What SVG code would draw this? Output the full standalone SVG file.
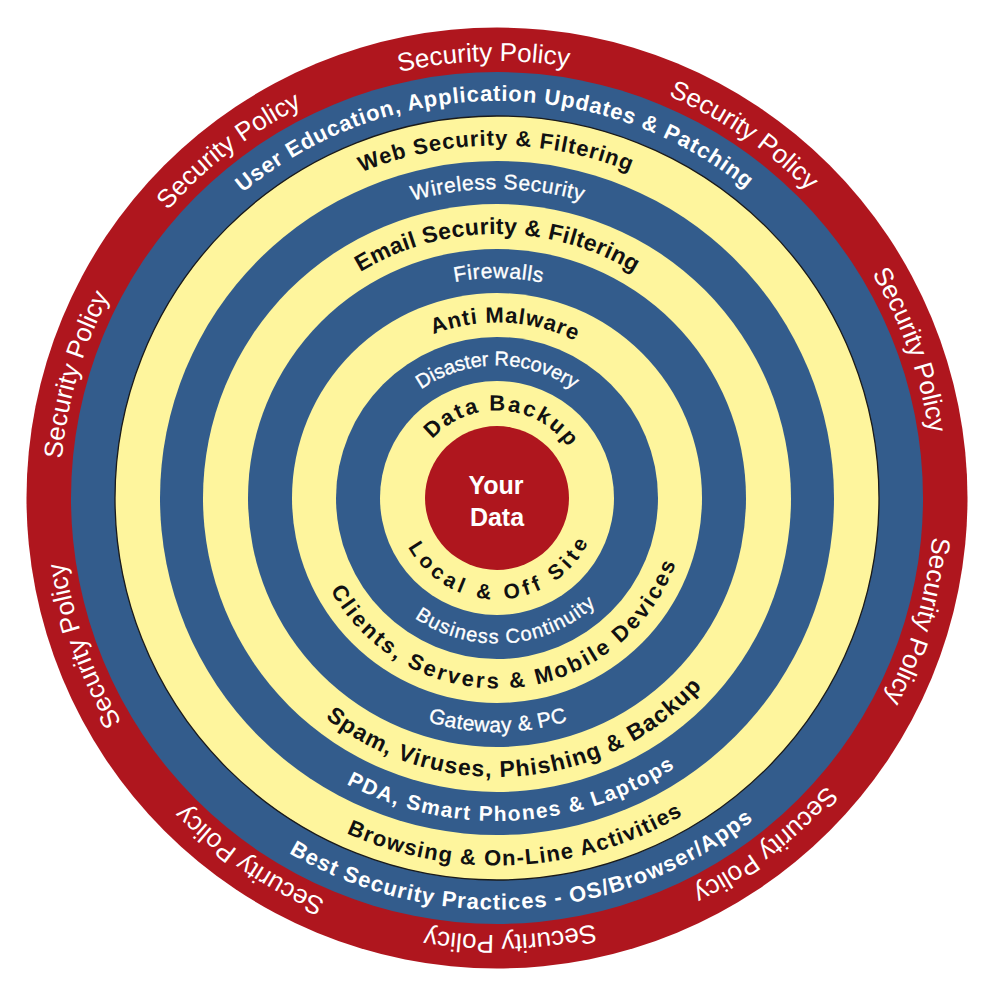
<svg xmlns="http://www.w3.org/2000/svg" width="998" height="998" viewBox="0 0 998 998">
<style>
.red{fill:#AF161E}
.blue{fill:#335C8C}
.yel{fill:#FEF59D}
.edge{stroke:#1a1a1a;stroke-width:1.3}
text{font-family:"Liberation Sans",Arial,sans-serif;text-anchor:middle}
.w{fill:#ffffff}
.m{stroke:#ffffff;stroke-width:0.35}
.k{fill:#111111}
.b{font-weight:bold}
</style>
<defs>
<path id="sp" d="M497,935 A437,437 0 1 1 497,61 A437,437 0 1 1 497,935 A437,437 0 1 1 497,61 A437,437 0 1 1 497,935"/>
<path id="c397" d="M497,895 A397,397 0 1 1 497,101 A397,397 0 1 1 497,895"/>
<path id="c352" d="M497,850.5 A352.5,352.5 0 1 1 497,145.5 A352.5,352.5 0 1 1 497,850.5"/>
<path id="c309" d="M497,807 A309,309 0 1 1 497,189 A309,309 0 1 1 497,807"/>
<path id="c264" d="M497,762 A264,264 0 1 1 497,234 A264,264 0 1 1 497,762"/>
<path id="c220" d="M497,718 A220,220 0 1 1 497,278 A220,220 0 1 1 497,718"/>
<path id="c175" d="M497,673.5 A175.5,175.5 0 1 1 497,322.5 A175.5,175.5 0 1 1 497,673.5"/>
<path id="c132" d="M497,630.5 A132.5,132.5 0 1 1 497,365.5 A132.5,132.5 0 1 1 497,630.5"/>
<path id="c87" d="M497,585.5 A87.5,87.5 0 1 1 497,410.5 A87.5,87.5 0 1 1 497,585.5"/>
<path id="a411" d="M497,86.5 A411.5,411.5 0 1 0 497,909.5 A411.5,411.5 0 1 0 497,86.5"/>
<path id="a367" d="M497,130.5 A367.5,367.5 0 1 0 497,865.5 A367.5,367.5 0 1 0 497,130.5"/>
<path id="a323" d="M497,175 A323,323 0 1 0 497,821 A323,323 0 1 0 497,175"/>
<path id="a279" d="M497,219 A279,279 0 1 0 497,777 A279,279 0 1 0 497,219"/>
<path id="a234" d="M497,264 A234,234 0 1 0 497,732 A234,234 0 1 0 497,264"/>
<path id="a190" d="M497,307.5 A190.5,190.5 0 1 0 497,688.5 A190.5,190.5 0 1 0 497,307.5"/>
<path id="a145" d="M497,352.5 A145.5,145.5 0 1 0 497,643.5 A145.5,145.5 0 1 0 497,352.5"/>
<path id="a101" d="M497,396.5 A101.5,101.5 0 1 0 497,599.5 A101.5,101.5 0 1 0 497,396.5"/>
</defs>

<g id="ring-security-policy">
<circle class="red" cx="497" cy="498" r="470.5"/>
<g class="w" font-size="26">
<text><textPath href="#sp" startOffset="1359.2">Security Policy</textPath></text>
<text><textPath href="#sp" startOffset="1633.7">Security Policy</textPath></text>
<text><textPath href="#sp" startOffset="1908.3">Security Policy</textPath></text>
<text><textPath href="#sp" startOffset="2182.9">Security Policy</textPath></text>
<text><textPath href="#sp" startOffset="2457.4">Security Policy</textPath></text>
<text><textPath href="#sp" startOffset="2732.0">Security Policy</textPath></text>
<text><textPath href="#sp" startOffset="3006.6">Security Policy</textPath></text>
<text><textPath href="#sp" startOffset="3281.2">Security Policy</textPath></text>
<text><textPath href="#sp" startOffset="3555.8">Security Policy</textPath></text>
<text><textPath href="#sp" startOffset="3830.3">Security Policy</textPath></text>
</g>
</g>

<g id="ring-education">
<circle class="blue" cx="497" cy="498" r="426"/>
<text class="w b" font-size="22"><textPath href="#c397" startOffset="1243.8" textLength="545" lengthAdjust="spacing">User Education, Application Updates &amp; Patching</textPath></text>
<text class="w b" font-size="22"><textPath href="#a411" startOffset="1321.5" textLength="495" lengthAdjust="spacing">Best Security Practices - OS/Browser/Apps</textPath></text>
</g>

<g id="ring-web">
<circle class="yel edge" cx="497" cy="498" r="382"/>
<text class="k b" font-size="22"><textPath href="#c352" startOffset="1105.6" textLength="275" lengthAdjust="spacing">Web Security &amp; Filtering</textPath></text>
<text class="k b" font-size="22"><textPath href="#a367" startOffset="1173.8" textLength="350" lengthAdjust="spacing">Browsing &amp; On-Line Activities</textPath></text>
</g>

<g id="ring-wireless">
<circle class="blue" cx="497" cy="498" r="337"/>
<text class="w m" font-size="21"><textPath href="#c309" startOffset="970.8" textLength="172" lengthAdjust="spacing">Wireless Security</textPath></text>
<text class="w b" font-size="21"><textPath href="#a323" startOffset="1030.5" textLength="345" lengthAdjust="spacing">PDA, Smart Phones &amp; Laptops</textPath></text>
</g>

<g id="ring-email">
<circle class="yel" cx="497" cy="498" r="294"/>
<text class="k b" font-size="23"><textPath href="#c264" startOffset="829.4" textLength="288" lengthAdjust="spacing">Email Security &amp; Filtering</textPath></text>
<text class="k b" font-size="23"><textPath href="#a279" startOffset="898.9" textLength="415" lengthAdjust="spacing">Spam, Viruses, Phishing &amp; Backup</textPath></text>
</g>

<g id="ring-firewalls">
<circle class="blue" cx="497" cy="498" r="249"/>
<text class="w m" font-size="21"><textPath href="#c220" startOffset="692.3" textLength="88" lengthAdjust="spacing">Firewalls</textPath></text>
<text class="w m" font-size="21"><textPath href="#a234" startOffset="735.5" textLength="142" lengthAdjust="spacing">Gateway &amp; PC</textPath></text>
</g>

<g id="ring-malware">
<circle class="yel" cx="497" cy="498" r="205"/>
<text class="k b" font-size="22"><textPath href="#c175" startOffset="559.0" textLength="146" lengthAdjust="spacing">Anti Malware</textPath></text>
<text class="k b" font-size="22"><textPath href="#a190" startOffset="612.8" textLength="435" lengthAdjust="spacing">Clients, Servers &amp; Mobile Devices</textPath></text>
</g>

<g id="ring-recovery">
<circle class="blue" cx="497" cy="498" r="161"/>
<text class="w m" font-size="20"><textPath href="#c132" startOffset="416.3" textLength="162" lengthAdjust="spacing">Disaster Recovery</textPath></text>
<text class="w m" font-size="20"><textPath href="#a145" startOffset="467.3" textLength="196" lengthAdjust="spacing">Business Continuity</textPath></text>
</g>

<g id="ring-backup">
<circle class="yel" cx="497" cy="498" r="117"/>
<text class="k b" font-size="22"><textPath href="#c87" startOffset="279.5" textLength="156" lengthAdjust="spacing">Data Backup</textPath></text>
<text class="k b" font-size="21"><textPath href="#a101" startOffset="320.6" textLength="221" lengthAdjust="spacing">Local &amp; Off Site</textPath></text>
</g>

<g id="your-data">
<circle class="red" cx="497" cy="498" r="72"/>
<text class="w b" font-size="25" x="496" y="494">Your</text>
<text class="w b" font-size="25" x="497" y="526">Data</text>
</g>
</svg>
